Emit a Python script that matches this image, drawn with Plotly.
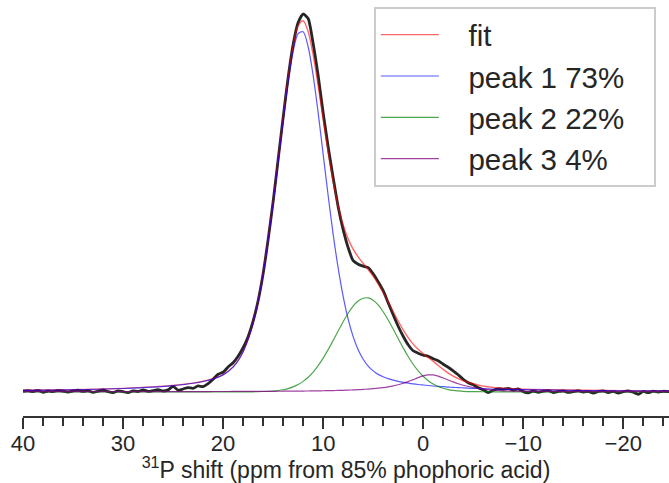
import plotly.graph_objects as go

# ---- data (intensity in arbitrary units) ----
fit_ppm = [40, 35, 30, 27, 25, 23, 22, 21, 20, 19,
           18, 17, 16, 15, 14.5, 14, 13.5, 13, 12.5, 12,
           11.5, 11, 10.5, 10, 9.5, 9, 8.5, 8, 7.5, 7,
           6.5, 6, 5.5, 5, 4.5, 4, 3.5, 3, 2.5, 2,
           1.5, 1, 0.5, 0, -0.5, -1, -1.5, -2, -2.5, -3,
           -3.5, -4, -5, -6, -7, -8, -10, -13, -16, -20,
           -25]

peak1 = [1.4, 2.0, 3.3, 4.7, 6.2, 8.5, 10.3, 12.8, 16.9, 24.6,
         39.8, 68.8, 117.7, 188.2, 229.2, 270.8, 309.2, 340.0, 357.9, 359.7,
         344.8, 316.2, 278.9, 237.5, 196.1, 157.6, 123.8, 95.4, 72.6, 55.1,
         42.0, 32.5, 25.7, 20.9, 17.4, 15.0, 13.1, 11.6, 10.4, 9.4,
         8.6, 7.9, 7.3, 6.8, 6.3, 5.8, 5.4, 5.1, 4.7, 4.4,
         4.2, 3.9, 3.5, 3.1, 2.8, 2.6, 2.1, 1.7, 1.3, 1.0,
         0.8]

peak2 = [0, 0, 0, 0, 0, 0, 0, 0, 0, 0,
         0, 0, 0.3, 0.8, 1.3, 2.0, 3.2, 4.9, 7.2, 10.4,
         14.5, 19.7, 26.1, 33.7, 42.1, 51.3, 60.8, 70.0, 78.5, 85.6,
         90.7, 93.5, 93.8, 91.5, 86.8, 80.0, 71.8, 62.7, 53.2, 43.9,
         35.3, 27.5, 20.9, 15.5, 11.1, 7.8, 5.3, 3.5, 2.2, 1.4,
         0.9, 0.5, 0.15, 0.04, 0, 0, 0, 0, 0, 0,
         0]

peak3 = [0.08, 0.1, 0.13, 0.16, 0.19, 0.22, 0.24, 0.26, 0.28, 0.31,
         0.35, 0.39, 0.43, 0.49, 0.52, 0.56, 0.59, 0.64, 0.68, 0.74,
         0.79, 0.86, 0.93, 1.02, 1.11, 1.22, 1.35, 1.49, 1.66, 1.86,
         2.1, 2.38, 2.71, 3.12, 3.61, 4.22, 4.97, 5.91, 7.07, 8.5,
         10.2, 12.2, 14.2, 15.9, 16.9, 16.8, 15.6, 13.8, 11.8, 9.85,
         8.0, 6.5, 4.3, 2.6, 1.6, 1.0, 0.5, 0.3, 0.2, 0.15,
         0.1]

fit = [1.5, 2.1, 3.4, 4.9, 6.4, 8.7, 10.5, 13.1, 17.2, 24.9,
       40.2, 69.2, 118.4, 189.5, 231.0, 273.4, 313.0, 345.5, 365.8, 370.8,
       360.1, 336.8, 305.9, 272.2, 239.3, 210.1, 186.0, 166.9, 152.8, 142.6,
       134.8, 128.4, 122.2, 115.5, 107.8, 99.2, 89.9, 80.2, 70.7, 61.8,
       54.1, 47.6, 42.4, 38.2, 34.3, 30.4, 26.3, 22.4, 18.7, 15.7,
       13.1, 10.9, 8.0, 5.7, 4.4, 3.6, 2.6, 2.0, 1.5, 1.2,
       0.9]

data_ppm = [40, 39.5, 39, 38.5, 38, 37.5, 37, 36.5, 36, 35.5,
            35, 34.5, 34, 33.5, 33, 32.5, 32, 31.5, 31, 30.5,
            30, 29.5, 29, 28.5, 28, 27.5, 27, 26.5, 26, 25.5,
            25, 24.5, 24, 23.5, 23, 22.5, 22, 21.5, 21, 20.5,
            20, 19.5, 19, 18.5, 18, 17.5, 17, 16.5, 16, 15.5,
            15, 14.5, 14, 13.5, 13, 12.5, 12, 11.5, 11, 10.5,
            10, 9.5, 9, 8.5, 8, 7.5, 7, 6.5, 6, 5.5,
            5, 4.5, 4, 3.5, 3, 2.5, 2, 1.5, 1, 0.5,
            0, -0.5, -1, -1.5, -2, -2.5, -3, -3.5, -4, -4.5,
            -5, -5.5, -6, -6.5, -7, -7.5, -8, -8.5, -9, -9.5,
            -10, -10.5, -11, -11.5, -12, -12.5, -13, -13.5, -14, -14.5,
            -15, -15.5, -16, -16.5, -17, -17.5, -18, -18.5, -19, -19.5,
            -20, -20.5, -21, -21.5, -22, -22.5, -23, -23.5, -24, -24.5,
            -25]

data = [0.5, 1.2, 0.3, 1.5, -0.5, 0.8, 0.2, 1.4, 0.6, -0.3,
        0.9, 1.6, 0.4, 1.1, -0.6, 0.7, 1.8, 0.2, -0.8, 0.9,
        0.1, -0.9, 1.0, 0.3, 1.9, 0.4, 1.2, 2.2, 0.8, 1.9,
        5.5, 1.6, 2.8, 4.2, 3.5, 5.8, 5.2, 8.1, 12.5, 17.5,
        19.5, 24.8, 29.0, 35.5, 44.0, 55.0, 70.5, 91.0, 118.0, 152.0,
        190.0, 232.0, 274.0, 314.0, 347.0, 369.0, 377.5, 373.0, 348.0, 316.0,
        279.0, 245.0, 214.0, 185.0, 162.0, 144.0, 131.0, 127.5, 125.5, 124.0,
        118.0, 110.0, 101.0, 89.0, 77.0, 65.5, 55.5, 47.0, 41.0, 38.5,
        36.5, 35.5, 33.0, 31.0, 27.5, 24.5, 21.0, 17.0, 12.5, 9.0,
        7.0, 4.0, 2.0, -0.8, 1.5, 3.2, 2.5, 3.4, 1.8, 3.0,
        0.2, -1.0, 0.8, -0.5, 0.6, 1.2, -0.8, 0.3, 1.0, -0.6,
        0.2, 1.1, -0.4, 0.5, -1.2, 0.3, 0.9, -0.7, 0.4, -1.4,
        0.1, 0.8, -0.5, -2.5, 0.4, -0.9, 0.6, -0.3, 0.5, 0.2,
        -0.4]

x_ticks = [40, 30, 20, 10, 0, -10, -20]
legend_names = ["fit", "peak 1 73%", "peak 2 22%", "peak 3 4%"]

FONT = "Liberation Sans, Arial, Helvetica, sans-serif"
TXT = "#262626"
GAP = "\u00a0\u00a0\u00a0"  # visual gap between legend line sample and label
PAD = "\u00a0\u00a0\u00a0"  # right padding inside the legend box

fig = go.Figure()
fig.add_trace(go.Scatter(x=data_ppm, y=data, mode="lines", showlegend=False,
                         line=dict(color="rgba(20,20,20,0.92)", width=2.8, shape="spline", smoothing=0.6)))
styles = [("rgba(255,0,0,0.6)", 1.4), ("rgba(0,0,255,0.65)", 1.2),
          ("rgba(0,128,0,0.7)", 1.2), ("rgba(128,0,128,0.75)", 1.2)]
series = [fit, peak1, peak2, peak3]
for i, (ys, (col, w)) in enumerate(zip(series, styles)):
    fig.add_trace(go.Scatter(x=fit_ppm, y=ys, mode="lines", name=GAP + legend_names[i] + PAD,
                             legendgroup="g%d" % i,
                             line=dict(color=col, width=w, shape="spline", smoothing=0.8)))

fig.update_layout(
    width=669, height=483,
    margin=dict(l=23.3, r=0, t=0, b=67.3, pad=0),
    paper_bgcolor="white", plot_bgcolor="white",
    font=dict(family=FONT, color=TXT),
    legend=dict(x=0.5431, xanchor="left", y=0.9832, yanchor="top",
                bgcolor="rgba(255,255,255,0.85)", bordercolor="#cccccc", borderwidth=2,
                font=dict(size=29.5, color=TXT, family=FONT),
                itemwidth=58, tracegroupgap=5, traceorder="normal"),
    xaxis=dict(range=[40, -24.57], tickvals=x_ticks, ticks="outside", ticklen=11, tickwidth=2,
               tickcolor="#333333", showline=True, linecolor="#333333", linewidth=2,
               showgrid=False, zeroline=False, automargin=False, ticklabelstandoff=-4,
               tickfont=dict(size=22, color=TXT, family=FONT),
               minor=dict(dtick=2, ticks="outside", ticklen=7.5, tickwidth=1.8, tickcolor="#333333", showgrid=False),
               title=dict(text="<sup>31</sup>P shift (ppm from 85% phophoric acid)",
                          font=dict(size=23, color=TXT, family=FONT), standoff=4)),
    yaxis=dict(range=[-24.2, 391.5], visible=False, showgrid=False, zeroline=False),
)

fig.write_html("out.html", config={"displayModeBar": False},
               post_script="document.body.style.margin='0px';")
